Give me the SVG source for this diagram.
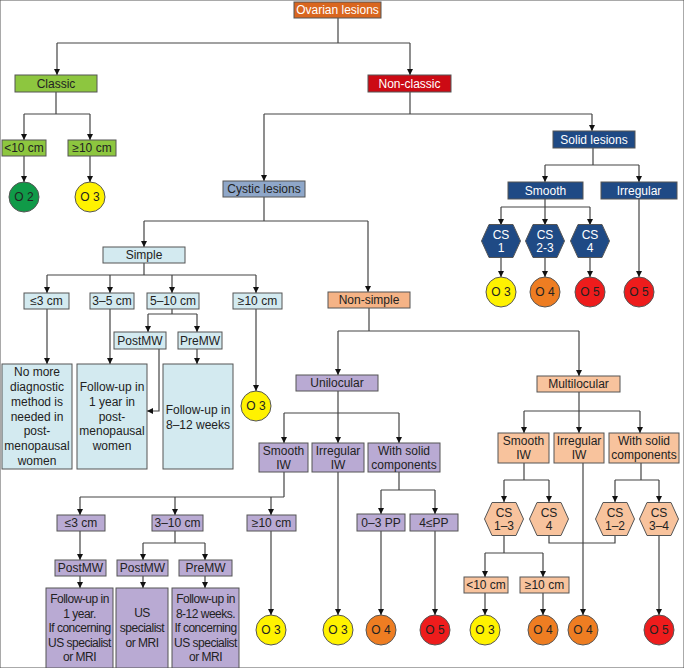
<svg xmlns="http://www.w3.org/2000/svg" width="684" height="668" viewBox="0 0 684 668">
<style>
text{font-family:"Liberation Sans",Arial,sans-serif;font-size:12px;fill:#222;text-anchor:middle}
.w{fill:#fff}
.t{letter-spacing:-0.5px}
rect,polygon,circle{stroke:#555;stroke-width:1}
.or{fill:#d9661f}.gr{fill:#8dc63f}.rd{fill:#cc0a14}.nv{fill:#1f4a85}.cy{fill:#8fa7c9}.lb{fill:#d3eaf0}.pe{fill:#f8c39d}.ps{fill:#f5b386}.pu{fill:#b9aad3}
.o2{fill:#109a48}.o3{fill:#fff200}.o4{fill:#ee7d22}.o5{fill:#ee1c1c}
#connectors line,#connectors polyline{stroke:#444;stroke-width:1.2;fill:none}
.a{marker-end:url(#arr)}
</style>
<defs>
<marker id="arr" viewBox="0 0 10 10" refX="10" refY="5" markerWidth="7" markerHeight="6" markerUnits="userSpaceOnUse" orient="auto"><path d="M0,0 L10,5 L0,10 z" fill="#111"/></marker>
</defs>
<rect width="684" height="668" fill="#fff" stroke="none"/>
<g id="connectors">
<line x1="338" y1="18" x2="338" y2="43"/><line x1="57" y1="43" x2="410" y2="43"/>
<line class="a" x1="57" y1="43" x2="57" y2="75"/><line class="a" x1="410" y1="43" x2="410" y2="75"/>
<line x1="56" y1="92" x2="56" y2="114"/><line x1="24" y1="114" x2="90" y2="114"/>
<line class="a" x1="24" y1="114" x2="24" y2="140"/><line class="a" x1="90" y1="114" x2="90" y2="140"/>
<line class="a" x1="24" y1="156" x2="24" y2="182"/><line class="a" x1="90" y1="156" x2="90" y2="182"/>
<line x1="410" y1="92" x2="410" y2="114"/><line x1="264" y1="114" x2="592" y2="114"/>
<line class="a" x1="264" y1="114" x2="264" y2="181"/><line class="a" x1="592" y1="114" x2="592" y2="131"/>
<line x1="593" y1="148" x2="593" y2="165"/><line x1="545" y1="165" x2="639" y2="165"/>
<line class="a" x1="545" y1="165" x2="545" y2="182"/><line class="a" x1="639" y1="165" x2="639" y2="182"/>
<line x1="545" y1="199" x2="545" y2="207"/><line x1="501" y1="207" x2="590" y2="207"/>
<line class="a" x1="501" y1="207" x2="501" y2="225"/><line class="a" x1="545" y1="207" x2="545" y2="225"/><line class="a" x1="590" y1="207" x2="590" y2="225"/>
<line class="a" x1="501" y1="258" x2="501" y2="277"/><line class="a" x1="545" y1="258" x2="545" y2="277"/><line class="a" x1="590" y1="258" x2="590" y2="277"/>
<line class="a" x1="639" y1="199" x2="639" y2="277"/>
<line x1="264" y1="197" x2="264" y2="221"/><line x1="144" y1="221" x2="368" y2="221"/>
<line class="a" x1="144" y1="221" x2="144" y2="247"/><line class="a" x1="368" y1="221" x2="368" y2="292"/>
<line x1="144" y1="263" x2="144" y2="275"/><line x1="47" y1="275" x2="256" y2="275"/>
<line class="a" x1="47" y1="275" x2="47" y2="293"/><line class="a" x1="110" y1="275" x2="110" y2="293"/><line class="a" x1="172" y1="275" x2="172" y2="293"/><line class="a" x1="256" y1="275" x2="256" y2="293"/>
<line class="a" x1="47" y1="309" x2="47" y2="364"/><line class="a" x1="110" y1="309" x2="110" y2="364"/><line class="a" x1="256" y1="309" x2="256" y2="391"/>
<line x1="172" y1="309" x2="172" y2="314"/><line x1="148" y1="314" x2="197" y2="314"/>
<line class="a" x1="148" y1="314" x2="148" y2="332"/><line class="a" x1="197" y1="314" x2="197" y2="332"/>
<polyline class="a" points="159,349 159,411 147,411"/>
<line class="a" x1="197" y1="349" x2="197" y2="364"/>
<line x1="369" y1="308" x2="369" y2="331"/><line x1="338" y1="331" x2="579" y2="331"/>
<line class="a" x1="338" y1="331" x2="338" y2="375"/><line class="a" x1="579" y1="331" x2="579" y2="376"/>
<line x1="338" y1="391" x2="338" y2="413"/><line x1="284" y1="413" x2="399" y2="413"/>
<line class="a" x1="284" y1="413" x2="284" y2="443"/><line class="a" x1="338" y1="413" x2="338" y2="443"/><line class="a" x1="399" y1="413" x2="399" y2="443"/>
<line x1="284" y1="472" x2="284" y2="497"/><line x1="80" y1="497" x2="284" y2="497"/>
<line class="a" x1="80" y1="497" x2="80" y2="515"/><line class="a" x1="175" y1="497" x2="175" y2="515"/><line class="a" x1="271" y1="497" x2="271" y2="515"/>
<line class="a" x1="80" y1="531" x2="80" y2="560"/><line class="a" x1="80" y1="576" x2="80" y2="588"/>
<line x1="175" y1="531" x2="175" y2="543"/><line x1="143" y1="543" x2="205" y2="543"/>
<line class="a" x1="143" y1="543" x2="143" y2="560"/><line class="a" x1="205" y1="543" x2="205" y2="560"/>
<line class="a" x1="143" y1="576" x2="143" y2="588"/><line class="a" x1="205" y1="576" x2="205" y2="588"/>
<line class="a" x1="271" y1="531" x2="271" y2="615"/>
<line class="a" x1="338" y1="472" x2="338" y2="615"/>
<line x1="399" y1="472" x2="399" y2="490"/><line x1="381" y1="490" x2="435" y2="490"/>
<line class="a" x1="381" y1="490" x2="381" y2="514"/><line class="a" x1="435" y1="490" x2="435" y2="514"/>
<line class="a" x1="381" y1="531" x2="381" y2="615"/><line class="a" x1="435" y1="531" x2="435" y2="615"/>
<line x1="579" y1="392" x2="579" y2="411"/><line x1="524" y1="411" x2="640" y2="411"/>
<line class="a" x1="524" y1="411" x2="524" y2="433"/><line class="a" x1="579" y1="411" x2="579" y2="433"/><line class="a" x1="640" y1="411" x2="640" y2="433"/>
<line x1="524" y1="463" x2="524" y2="480"/><line x1="504" y1="480" x2="549" y2="480"/>
<line class="a" x1="504" y1="480" x2="504" y2="502"/><line class="a" x1="549" y1="480" x2="549" y2="502"/>
<line x1="641" y1="463" x2="641" y2="480"/><line x1="615" y1="480" x2="659" y2="480"/>
<line class="a" x1="615" y1="480" x2="615" y2="502"/><line class="a" x1="659" y1="480" x2="659" y2="502"/>
<line class="a" x1="583" y1="463" x2="583" y2="615"/>
<polyline points="549,535 549,543 615,543 615,535"/>
<line x1="504" y1="535" x2="504" y2="553"/><line x1="485" y1="553" x2="543" y2="553"/>
<line class="a" x1="485" y1="553" x2="485" y2="577"/><line class="a" x1="543" y1="553" x2="543" y2="577"/>
<line class="a" x1="485" y1="593" x2="485" y2="615"/><line class="a" x1="543" y1="593" x2="543" y2="615"/>
<line class="a" x1="659" y1="535" x2="659" y2="615"/>
</g>
<g id="ovarian"><rect class="or" x="294" y="2" width="87" height="16"/><text class="w" x="337.5" y="14">Ovarian lesions</text></g>
<g id="classic"><rect class="gr" x="15" y="75" width="82" height="17"/><text x="56" y="88">Classic</text></g>
<g id="c-lt10"><rect class="gr" x="2" y="140" width="44" height="16"/><text x="24" y="152">&lt;10 cm</text></g>
<g id="c-ge10"><rect class="gr" x="68" y="140" width="48" height="16"/><text x="92" y="152">≥10 cm</text></g>
<g id="c-o2"><circle class="o2" cx="24" cy="197" r="15"/><text x="24" y="201">O 2</text></g>
<g id="c-o3"><circle class="o3" cx="90" cy="197" r="15"/><text x="90" y="201">O 3</text></g>
<g id="nonclassic"><rect class="rd" x="368" y="75" width="83" height="17"/><text class="w" x="409.5" y="88">Non-classic</text></g>
<g id="solid"><rect class="nv" x="553" y="131" width="82" height="17"/><text class="w" x="594" y="144">Solid lesions</text></g>
<g id="s-smooth"><rect class="nv" x="508" y="182" width="75" height="17"/><text class="w" x="545.5" y="195">Smooth</text></g>
<g id="s-irregular"><rect class="nv" x="601" y="182" width="76" height="17"/><text class="w" x="639" y="195">Irregular</text></g>
<g id="s-cs1"><polygon class="nv" points="481.5,241 489,224.5 513,224.5 520.5,241 513,257.5 489,257.5"/><text class="w" x="501" y="239">CS</text><text class="w" x="501" y="252">1</text></g>
<g id="s-cs23"><polygon class="nv" points="525.5,241 533,224.5 557,224.5 564.5,241 557,257.5 533,257.5"/><text class="w" x="545" y="239">CS</text><text class="w" x="545" y="252">2-3</text></g>
<g id="s-cs4"><polygon class="nv" points="570.5,241 578,224.5 602,224.5 609.5,241 602,257.5 578,257.5"/><text class="w" x="590" y="239">CS</text><text class="w" x="590" y="252">4</text></g>
<g id="s-o3"><circle class="o3" cx="501" cy="292" r="15"/><text x="501" y="296">O 3</text></g>
<g id="s-o4"><circle class="o4" cx="545" cy="292" r="15"/><text x="545" y="296">O 4</text></g>
<g id="s-o5a"><circle class="o5" cx="590" cy="292" r="15"/><text x="590" y="296">O 5</text></g>
<g id="s-o5b"><circle class="o5" cx="639" cy="292" r="15"/><text x="639" y="296">O 5</text></g>
<g id="cystic"><rect class="cy" x="223" y="181" width="82" height="16"/><text x="264" y="193">Cystic lesions</text></g>
<g id="simple"><rect class="lb" x="103" y="247" width="82" height="16"/><text x="144" y="259">Simple</text></g>
<g id="sm-le3"><rect class="lb" x="24" y="293" width="45" height="16"/><text x="46.5" y="305">≤3 cm</text></g>
<g id="sm-35"><rect class="lb" x="90" y="293" width="44" height="16"/><text x="112" y="305">3–5 cm</text></g>
<g id="sm-510"><rect class="lb" x="147" y="293" width="52" height="16"/><text x="173" y="305">5–10 cm</text></g>
<g id="sm-ge10"><rect class="lb" x="233" y="293" width="49" height="16"/><text x="257.5" y="305">≥10 cm</text></g>
<g id="sm-post"><rect class="lb" x="114" y="332" width="52" height="17"/><text x="140" y="345">PostMW</text></g>
<g id="sm-pre"><rect class="lb" x="178" y="332" width="44" height="17"/><text x="200" y="345">PreMW</text></g>
<g id="sm-box1"><rect class="lb" x="2" y="364" width="70" height="105"/><text x="37" y="376">No more</text><text x="37" y="391">diagnostic</text><text x="37" y="406">method is</text><text x="37" y="420.5">needed in</text><text x="37" y="435">post-</text><text x="37" y="450">menopausal</text><text x="37" y="465">women</text></g>
<g id="sm-box2"><rect class="lb" x="77" y="364" width="70" height="105"/><text x="112" y="391">Follow-up in</text><text x="112" y="406">1 year in</text><text x="112" y="420.5">post-</text><text x="112" y="435">menopausal</text><text x="112" y="450">women</text></g>
<g id="sm-box3"><rect class="lb" x="163" y="364" width="70" height="105"/><text x="198" y="413.5">Follow-up in</text><text x="198" y="428.5">8–12 weeks</text></g>
<g id="sm-o3"><circle class="o3" cx="256" cy="406" r="15"/><text x="256" y="410">O 3</text></g>
<g id="nonsimple"><rect class="ps" x="328" y="292" width="82" height="16"/><text x="369" y="304">Non-simple</text></g>
<g id="unilocular"><rect class="pu" x="296" y="375" width="82" height="16"/><text x="337" y="387">Unilocular</text></g>
<g id="u-smooth"><rect class="pu" x="259" y="443" width="49" height="29"/><text x="283.5" y="455">Smooth</text><text x="283.5" y="469">IW</text></g>
<g id="u-irreg"><rect class="pu" x="312" y="443" width="52" height="29"/><text x="338" y="455">Irregular</text><text x="338" y="469">IW</text></g>
<g id="u-solid"><rect class="pu" x="368" y="443" width="72" height="29"/><text x="404" y="455">With solid</text><text x="404" y="469">components</text></g>
<g id="u-le3"><rect class="pu" x="57" y="515" width="48" height="16"/><text x="81" y="527">≤3 cm</text></g>
<g id="u-310"><rect class="pu" x="152" y="515" width="51" height="16"/><text x="177.5" y="527">3–10 cm</text></g>
<g id="u-ge10"><rect class="pu" x="247" y="515" width="49" height="16"/><text x="271.5" y="527">≥10 cm</text></g>
<g id="u-post1"><rect class="pu" x="55" y="560" width="51" height="16"/><text x="80.5" y="572">PostMW</text></g>
<g id="u-post2"><rect class="pu" x="117" y="560" width="51" height="16"/><text x="142.5" y="572">PostMW</text></g>
<g id="u-pre"><rect class="pu" x="179" y="560" width="53" height="16"/><text x="205.5" y="572">PreMW</text></g>
<g id="u-box1"><rect class="pu" x="46" y="588" width="67" height="80"/><text class="t" x="79.5" y="603">Follow-up in</text><text class="t" x="79.5" y="617.5">1 year.</text><text class="t" x="79.5" y="632">If concerning</text><text class="t" x="79.5" y="646.5">US specialist</text><text class="t" x="79.5" y="661">or MRI</text></g>
<g id="u-box2"><rect class="pu" x="116" y="588" width="52" height="80"/><text class="t" x="142" y="617">US</text><text class="t" x="142" y="632">specialist</text><text class="t" x="142" y="646.5">or MRI</text></g>
<g id="u-box3"><rect class="pu" x="172" y="588" width="67" height="80"/><text class="t" x="205.5" y="603">Follow-up in</text><text class="t" x="205.5" y="617.5">8-12 weeks.</text><text class="t" x="205.5" y="632">If concerning</text><text class="t" x="205.5" y="646.5">US specialist</text><text class="t" x="205.5" y="661">or MRI</text></g>
<g id="u-o3a"><circle class="o3" cx="271" cy="630" r="15"/><text x="271" y="634">O 3</text></g>
<g id="u-o3b"><circle class="o3" cx="338" cy="630" r="15"/><text x="338" y="634">O 3</text></g>
<g id="u-pp03"><rect class="pu" x="357" y="514" width="48" height="17"/><text x="381" y="527">0–3 PP</text></g>
<g id="u-pp4"><rect class="pu" x="410" y="514" width="48" height="17"/><text x="434" y="527">4≤PP</text></g>
<g id="u-o4"><circle class="o4" cx="381" cy="630" r="15"/><text x="381" y="634">O 4</text></g>
<g id="u-o5"><circle class="o5" cx="435" cy="630" r="15"/><text x="435" y="634">O 5</text></g>
<g id="multilocular"><rect class="pe" x="537" y="376" width="83" height="16"/><text x="578.5" y="388">Multilocular</text></g>
<g id="m-smooth"><rect class="pe" x="498" y="433" width="51" height="30"/><text x="523.5" y="445">Smooth</text><text x="523.5" y="459">IW</text></g>
<g id="m-irreg"><rect class="pe" x="554" y="433" width="50" height="30"/><text x="579" y="445">Irregular</text><text x="579" y="459">IW</text></g>
<g id="m-solid"><rect class="pe" x="609" y="433" width="70" height="30"/><text x="644" y="445">With solid</text><text x="644" y="459">components</text></g>
<g id="m-cs13"><polygon class="pe" points="484.5,519 492,502.5 516,502.5 523.5,519 516,535.5 492,535.5"/><text x="504" y="517">CS</text><text x="504" y="530">1–3</text></g>
<g id="m-cs4"><polygon class="pe" points="529.5,519 537,502.5 561,502.5 568.5,519 561,535.5 537,535.5"/><text x="549" y="517">CS</text><text x="549" y="530">4</text></g>
<g id="m-cs12"><polygon class="pe" points="595.5,519 603,502.5 627,502.5 634.5,519 627,535.5 603,535.5"/><text x="615" y="517">CS</text><text x="615" y="530">1–2</text></g>
<g id="m-cs34"><polygon class="pe" points="639.5,519 647,502.5 671,502.5 678.5,519 671,535.5 647,535.5"/><text x="659" y="517">CS</text><text x="659" y="530">3–4</text></g>
<g id="m-lt10"><rect class="pe" x="464" y="577" width="44" height="16"/><text x="486" y="589">&lt;10 cm</text></g>
<g id="m-ge10"><rect class="pe" x="520" y="577" width="49" height="16"/><text x="544.5" y="589">≥10 cm</text></g>
<g id="m-o3"><circle class="o3" cx="485" cy="630" r="15"/><text x="485" y="634">O 3</text></g>
<g id="m-o4a"><circle class="o4" cx="543" cy="630" r="15"/><text x="543" y="634">O 4</text></g>
<g id="m-o4b"><circle class="o4" cx="583" cy="630" r="15"/><text x="583" y="634">O 4</text></g>
<g id="m-o5"><circle class="o5" cx="659" cy="630" r="15"/><text x="659" y="634">O 5</text></g>
</svg>
